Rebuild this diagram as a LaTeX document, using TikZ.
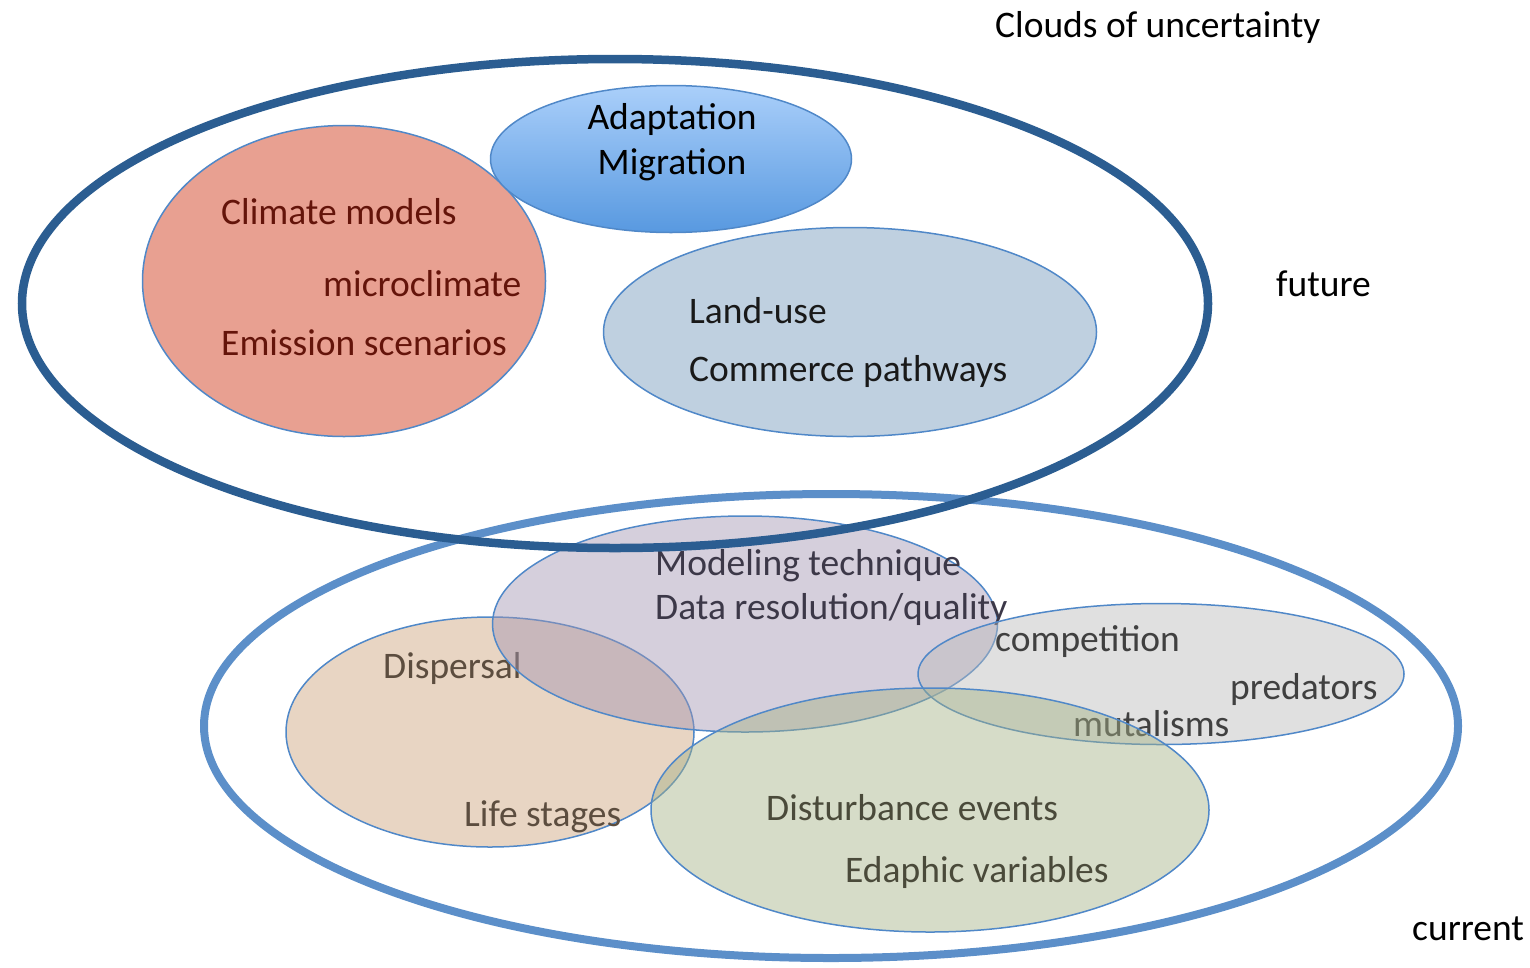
\documentclass[tikz,border=0pt]{standalone}
\usepackage{fontspec}
\setmainfont{Carlito}
\usetikzlibrary{shapes.geometric}

\definecolor{futureblue}{RGB}{43,93,145}
\definecolor{currentblue}{RGB}{92,143,201}
\definecolor{rimblue}{RGB}{80,136,200}
\definecolor{climatefill}{RGB}{232,160,145}
\definecolor{climatetext}{RGB}{100,20,10}
\definecolor{landfill}{RGB}{191,208,224}
\definecolor{adapttop}{RGB}{170,207,250}
\definecolor{adaptbottom}{RGB}{88,153,224}
\definecolor{methodfill}{RGB}{162,148,177}
\definecolor{methodtext}{RGB}{60,56,72}
\definecolor{dispersalfill}{RGB}{204,162,122}
\definecolor{dispersaltext}{RGB}{92,77,63}
\definecolor{bioticfill}{RGB}{186,186,186}
\definecolor{disturbfill}{RGB}{164,177,133}
\definecolor{disturbtext}{RGB}{74,74,58}

\begin{document}
\begin{tikzpicture}[x=1pt, y=-1pt]
        \tikzstyle{every node}=[font=\fontsize{37.5}{41}\selectfont]
        \tikzstyle{cloud}=[ellipse, draw=rimblue, line width=1.5pt, inner sep=0pt]
        \tikzstyle{haze}=[cloud, fill opacity=0.45]
        \tikzstyle{word}=[anchor=base west, inner sep=0pt]
        \useasboundingbox (0,0) rectangle (1530,967);

        % current conditions
        \node [ellipse, draw=currentblue, line width=8pt, inner sep=0pt, minimum width=1254, minimum height=464] (current) at (831,726) {};
        \node [haze, fill=dispersalfill, minimum width=408, minimum height=230] (dispersal) at (490,732) {};
        \node [word, text=dispersaltext] (dispersalA) at (383,678) {Dispersal};
        \node [word, text=dispersaltext] (dispersalB) at (464,826) {Life stages};
        \node [haze, fill=methodfill, minimum width=505, minimum height=216] (method) at (745,624) {};
        \node [word, text=methodtext] (methodA) at (655,575) {Modeling technique};
        \node [word, text=methodtext] (methodB) at (655,619) {Data resolution/quality};
        \node [haze, fill=bioticfill, minimum width=486, minimum height=141] (biotic) at (1161,674) {};
        \node [word, text=black!75] (bioticA) at (995,651) {competition};
        \node [word, text=black!75] (bioticB) at (1230,699) {predators};
        \node [word, text=black!75] (bioticC) at (1073,736) {mutalisms};
        \node [haze, fill=disturbfill, minimum width=558, minimum height=244] (disturb) at (930,810) {};
        \node [word, text=disturbtext] (disturbA) at (766,820) {Disturbance events};
        \node [word, text=disturbtext] (disturbB) at (845,882) {Edaphic variables};

        % future conditions
        \node [cloud, fill=climatefill, minimum width=403, minimum height=311] (climate) at (344,281) {};
        \node [word, text=climatetext] (climateA) at (221,224) {Climate models};
        \node [word, text=climatetext] (climateB) at (323,296) {microclimate};
        \node [word, text=climatetext] (climateC) at (221,355) {Emission scenarios};
        \node [cloud, top color=adapttop, bottom color=adaptbottom, minimum width=361, minimum height=147] (adapt) at (671,159) {};
        \node [align=center, inner sep=0pt, font=\fontsize{37.5}{45}\selectfont] (adaptT) at (672,142) {Adaptation\\Migration};
        \node [cloud, fill=landfill, minimum width=493, minimum height=209] (landuse) at (850,332) {};
        \node [word, text=black!90] (landuseA) at (689,323) {Land-use};
        \node [word, text=black!90] (landuseB) at (689,381) {Commerce pathways};
        \node [ellipse, draw=futureblue, line width=8.5pt, inner sep=0pt, minimum width=1186, minimum height=489] (future) at (615,303.5) {};

        \node [word] (clouds) at (995,37) {Clouds of uncertainty};
        \node [word] (futureT) at (1276,296) {future};
        \node [word] (currentT) at (1412,940) {current};
    \end{tikzpicture}
\end{document}
